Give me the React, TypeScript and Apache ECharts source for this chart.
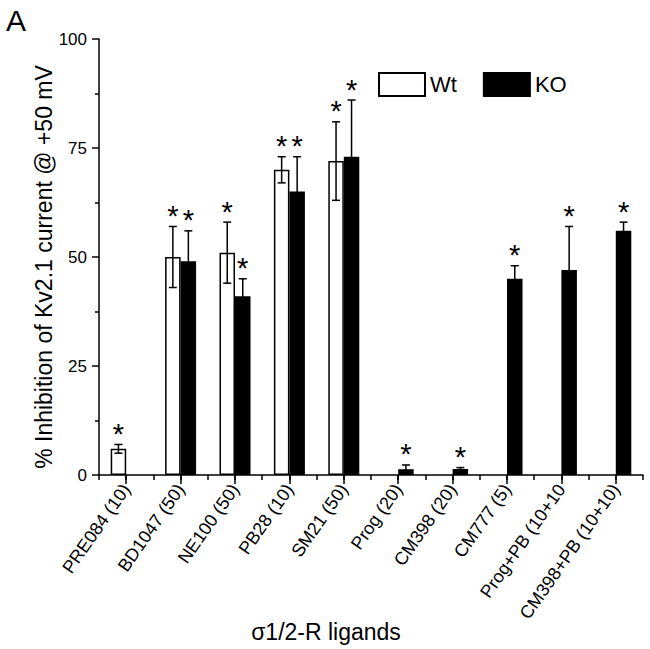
import React, { useEffect, useRef } from "react";
import * as echarts from "echarts";

const categories = [
  "PRE084 (10)",
  "BD1047 (50)",
  "NE100 (50)",
  "PB28 (10)",
  "SM21 (50)",
  "Prog (20)",
  "CM398 (20)",
  "CM777 (5)",
  "Prog+PB (10+10",
  "CM398+PB (10+10)",
];
const wtValues: (number | null)[] = [6, 50, 51, 70, 72, null, null, null, null, null];
const wtErrors: (number | null)[] = [1, 7, 7, 3, 9, null, null, null, null, null];
const koValues: (number | null)[] = [null, 49, 41, 65, 73, 1.3, 1.4, 45, 47, 56];
const koErrors: (number | null)[] = [null, 7, 4, 8, 13, 1, 0.3, 3, 10, 2];
const seriesNames = ["Wt", "KO"];
const yMin = 0;
const yMax = 100;
const yInterval = 25;
const yTitle = "% Inhibition of Kv2.1 current @ +50 mV";
const xTitle = "σ1/2-R ligands";
const panelLabel = "A";

const FONT = "'Liberation Sans', Arial, sans-serif";
const BAR_W = 15.5;

// axis points: a gap point before each category, one category point, and one trailing point
const axisData: string[] = [];
for (let i = 0; i < categories.length; i++) {
  axisData.push("gap" + i);
  axisData.push(categories[i]);
}
axisData.push("end");

const toAxisSeries = (vals: (number | null)[]) => {
  const out: (number | string)[] = axisData.map(() => "-");
  vals.forEach((v, i) => {
    if (v !== null) out[2 * i + 1] = v;
  });
  return out;
};

const errData: number[][] = [];
wtValues.forEach((v, i) => {
  if (v !== null) errData.push([2 * i + 1, v, wtErrors[i] as number, -1]);
});
koValues.forEach((v, i) => {
  if (v !== null) errData.push([2 * i + 1, v, koErrors[i] as number, 1]);
});

const isCategory = (idx: number) => idx % 2 === 1 && idx < axisData.length - 1;

export default function App() {
  const ref = useRef<HTMLDivElement>(null);
  useEffect(() => {
    document.body.style.margin = "0";
    const chart = echarts.init(ref.current!, null, { renderer: "svg" });
    const option: any = {
      animation: false,
      backgroundColor: "#fff",
      textStyle: { fontFamily: FONT, color: "#000" },
      grid: { left: 99, right: 7, top: 39, bottom: 174, containLabel: false, outerBoundsMode: "none" },
      legend: {
        data: seriesNames,
        left: 378,
        top: 72,
        padding: 0,
        itemWidth: 46,
        itemHeight: 23,
        itemGap: 26,
        icon: "rect",
        textStyle: { fontSize: 22, fontFamily: FONT, color: "#000" },
      },
      xAxis: [
        {
          type: "category",
          data: axisData,
          boundaryGap: false,
          position: "bottom",
          axisLine: { show: true, lineStyle: { color: "#000", width: 1.5 } },
          axisTick: { show: true, interval: 0, length: 5, lineStyle: { color: "#000", width: 1.5 } },
          axisLabel: {
            interval: (idx: number) => isCategory(idx),
            rotate: 55,
            fontSize: 18,
            fontFamily: FONT,
            color: "#000",
            margin: 11,
          },
          splitLine: { show: false },
        },
        {
          type: "category",
          data: axisData,
          boundaryGap: false,
          position: "bottom",
          axisLine: { show: false },
          axisTick: {
            show: true,
            interval: (idx: number) => idx % 2 === 1,
            length: 9,
            lineStyle: { color: "#000", width: 1.5 },
          },
          axisLabel: { show: false },
          splitLine: { show: false },
        },
      ],
      yAxis: {
        type: "value",
        min: yMin,
        max: yMax,
        interval: yInterval,
        axisLine: { show: true, lineStyle: { color: "#000", width: 1.5 } },
        axisTick: { show: true, length: 7, lineStyle: { color: "#000", width: 1.5 } },
        minorTick: { show: true, splitNumber: 2, length: 4, lineStyle: { color: "#000", width: 1.5 } },
        axisLabel: { fontSize: 17, fontFamily: FONT, color: "#000", margin: 12 },
        splitLine: { show: false },
      },
      graphic: [
        {
          type: "text",
          left: 6,
          top: 5,
          style: { text: panelLabel, fontSize: 30, fontFamily: FONT, fill: "#000" },
        },
        {
          type: "text",
          x: 44,
          y: 267,
          rotation: Math.PI / 2,
          style: {
            text: yTitle,
            fontSize: 23,
            fontFamily: FONT,
            fill: "#000",
            align: "center",
            verticalAlign: "middle",
          },
        },
        {
          type: "text",
          x: 326,
          y: 632,
          style: {
            text: xTitle,
            fontSize: 23,
            fontFamily: FONT,
            fill: "#000",
            align: "center",
            verticalAlign: "middle",
          },
        },
      ],
      series: [
        {
          name: seriesNames[0],
          type: "bar",
          xAxisIndex: 0,
          data: toAxisSeries(wtValues),
          barWidth: BAR_W,
          barGap: "0%",
          itemStyle: { color: "#fff", borderColor: "#000", borderWidth: 1.5 },
          z: 2,
        },
        {
          name: seriesNames[1],
          type: "bar",
          xAxisIndex: 0,
          data: toAxisSeries(koValues),
          barWidth: BAR_W,
          barGap: "0%",
          itemStyle: { color: "#000", borderColor: "#000", borderWidth: 1.5 },
          z: 2,
        },
        {
          type: "custom",
          xAxisIndex: 0,
          data: errData,
          z: 5,
          renderItem: (params: any, api: any) => {
            const x = api.value(0);
            const v = api.value(1);
            const e = api.value(2);
            const side = api.value(3);
            const top = api.coord([x, v + e]);
            const bot = api.coord([x, v - e]);
            const cx = top[0] + (side * BAR_W) / 2;
            const ls = { stroke: "#000", lineWidth: 1.5 };
            return {
              type: "group",
              children: [
                { type: "line", shape: { x1: cx, y1: top[1], x2: cx, y2: bot[1] }, style: ls },
                { type: "line", shape: { x1: cx - 4, y1: top[1], x2: cx + 4, y2: top[1] }, style: ls },
                { type: "line", shape: { x1: cx - 4, y1: bot[1], x2: cx + 4, y2: bot[1] }, style: ls },
                {
                  type: "text",
                  x: cx,
                  y: top[1] + 4,
                  style: {
                    text: "*",
                    fontSize: 29,
                    fontFamily: FONT,
                    fill: "#000",
                    align: "center",
                    verticalAlign: "bottom",
                  },
                },
              ],
            };
          },
        },
      ],
    };
    chart.setOption(option);
    return () => chart.dispose();
  }, []);
  return (
    <div
      ref={ref}
      style={{ position: "fixed", left: 0, top: 0, width: 650, height: 649, background: "#fff" }}
    />
  );
}
